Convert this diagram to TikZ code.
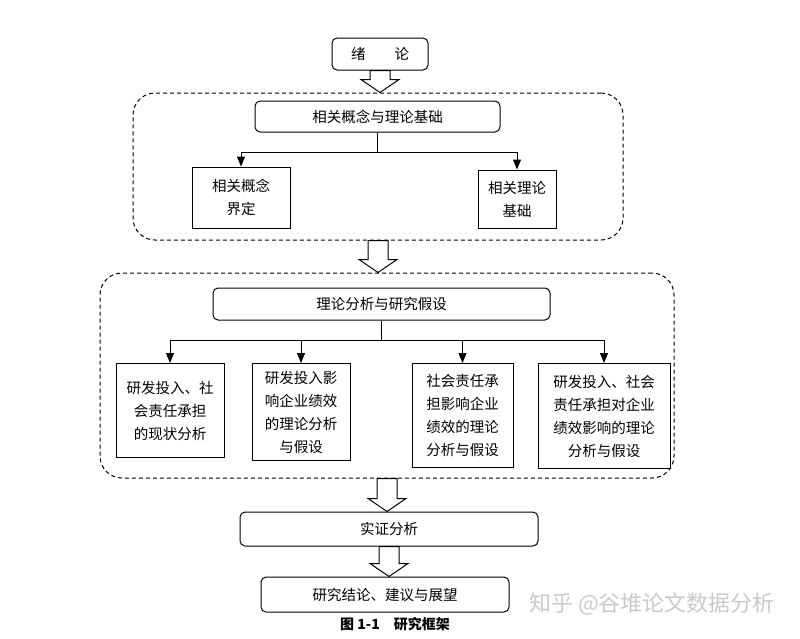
\documentclass[tikz,border=0pt]{standalone}
\usepackage{fontspec}
\setmainfont{Noto Sans CJK SC}
\usepackage{tikz}
\usetikzlibrary{calc}
\usetikzlibrary{arrows.meta}

\newcommand\blockarrow[2]{%
  \draw[blockline] ($(#1)+(-10,0)$) -- ($(#1 |- #2)+(-10,-13)$) -- ++(-9,0)
    -- (#1 |- #2) -- ++(19,-13) -- ++(-9,0) -- ($(#1)+(10,0)$) -- cycle;}

\begin{document}
\begin{tikzpicture}[x=1pt, y=-1pt,
  every node/.append style={font=\fontsize{14.5}{23}\selectfont},
  headbox/.style={draw, rounded corners=5pt, line width=1pt, inner sep=0pt},
  itembox/.style={draw, line width=1pt, align=center, inner sep=0pt},
  groupframe/.style={draw, rounded corners=22pt, line width=1pt, dash pattern=on 4pt off 3pt},
  branch/.style={line width=1pt, -{Triangle[length=10pt,width=8pt]}},
  blockline/.style={line width=1pt, line join=miter}]

  \useasboundingbox (0,0) rectangle (800,638);

  \node[headbox, minimum width=96pt, minimum height=32pt] (intro) at (380,54) {绪\hspace{2em}论};

  % part one
  \node[groupframe, minimum width=490pt, minimum height=147pt] (frameA) at (378,166.5) {};
  \node[headbox, minimum width=245pt, minimum height=31pt] (basis) at (377.5,116.5) {相关概念与理论基础};
  \node[itembox, minimum width=98pt, minimum height=61pt] (concept) at (241,197.5) {相关概念\\界定};
  \node[itembox, minimum width=78pt, minimum height=58pt] (theory) at (517,199) {相关理论\\基础};
  \foreach \c in {concept,theory}
    \draw[branch] (basis.south) -- ++(0,20) -| (\c.north);

  % part two
  \node[groupframe, minimum width=574pt, minimum height=205pt] (frameB) at (387,375.5) {};
  \node[headbox, minimum width=337pt, minimum height=32pt] (hypo) at (381.5,304) {理论分析与研究假设};
  \node[itembox, anchor=north, minimum width=108pt, minimum height=94pt] (status) at (170,363)
    {研发投入、社\\会责任承担\\的现状分析};
  \node[itembox, anchor=north, minimum width=98pt, minimum height=97pt] (rdperf) at (301,363)
    {研发投入影\\响企业绩效\\的理论分析\\与假设};
  \node[itembox, anchor=north, minimum width=101pt, minimum height=104pt] (csrperf) at (462.5,363)
    {社会责任承\\担影响企业\\绩效的理论\\分析与假设};
  \node[itembox, anchor=north, minimum width=132pt, minimum height=105pt] (joint) at (604,363)
    {研发投入、社会\\责任承担对企业\\绩效影响的理论\\分析与假设};
  \foreach \c in {status,rdperf,csrperf,joint}
    \draw[branch] (hypo.south) -- ++(0,20) -| (\c.north);

  % parts three and four
  \node[headbox, minimum width=298pt, minimum height=34pt] (empiric) at (389,529) {实证分析};
  \node[headbox, minimum width=248pt, minimum height=35pt] (outlook) at (385,594.5) {研究结论、建议与展望};

  \blockarrow{intro.south}{frameA.north}
  \blockarrow{frameA.south}{frameB.north}
  \blockarrow{frameB.south}{empiric.north}
  \blockarrow{empiric.south}{outlook.north}

  \node[font=\fontsize{14}{16}\selectfont\bfseries] (caption) at (395,624) {图 1-1\quad 研究框架};
  \node[text=gray!42, font=\fontsize{22}{24}\selectfont] (mark) at (652,604) {知乎 @谷堆论文数据分析};
\end{tikzpicture}
\end{document}
